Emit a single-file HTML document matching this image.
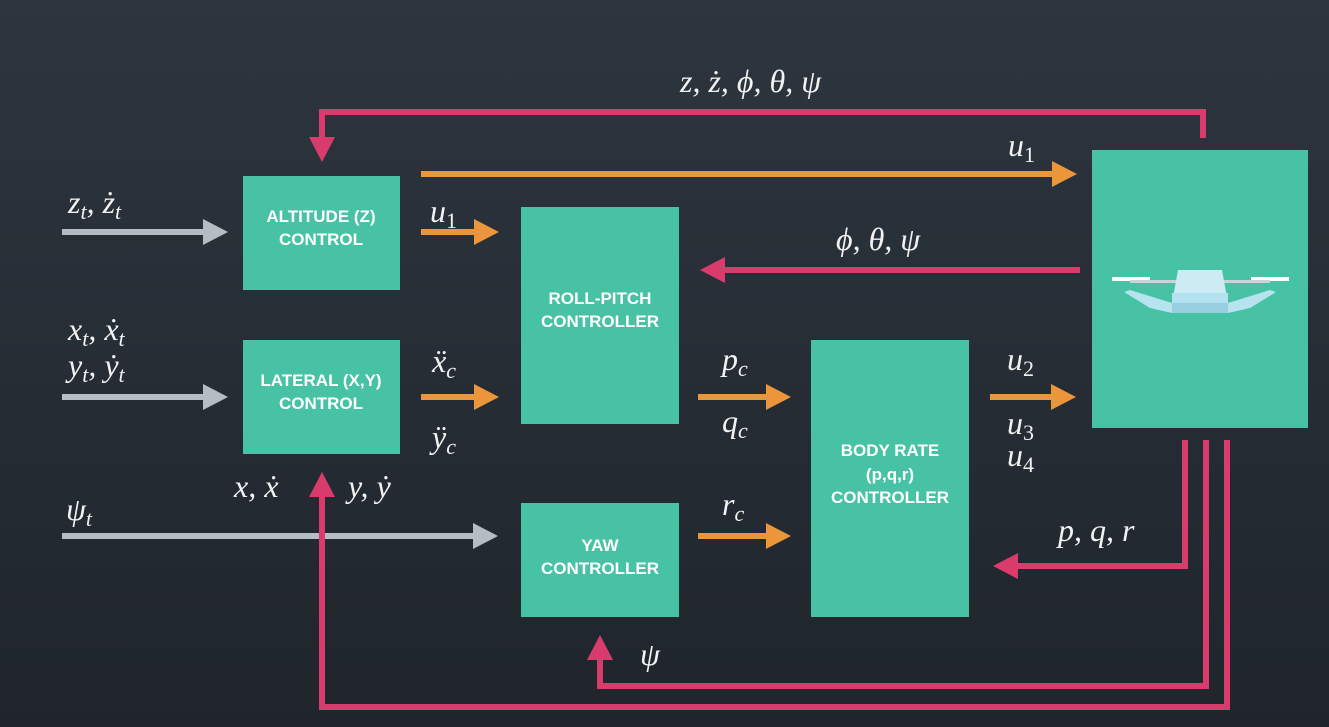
<!DOCTYPE html>
<html><head><meta charset="utf-8"><style>
html,body{margin:0;padding:0;width:1329px;height:727px;overflow:hidden;background:#272e36}
svg{display:block}
.m{font-family:"Liberation Serif",serif;font-style:italic;fill:#f2f2f2;font-size:32px}
.s{font-size:22px}
.n{font-size:22px;font-style:normal}
.b{font-family:"Liberation Sans",sans-serif;font-weight:bold;fill:#fff;font-size:17px;text-anchor:middle}
</style></head><body>
<svg width="1329" height="727" viewBox="0 0 1329 727">
<defs>
<linearGradient id="bg" x1="0" y1="0" x2="0" y2="1"><stop offset="0" stop-color="#2d353f"/><stop offset="1" stop-color="#1f252b"/></linearGradient>
</defs>
<rect width="1329" height="727" fill="url(#bg)"/>
<g fill="#48c2a5">
<rect x="243" y="176" width="157" height="114"/>
<rect x="243" y="340" width="157" height="114"/>
<rect x="521" y="207" width="158" height="217"/>
<rect x="521" y="503" width="158" height="114"/>
<rect x="811" y="340" width="158" height="277"/>
<rect x="1092" y="150" width="216" height="278"/>
</g>
<!-- drone -->
<rect x="1112" y="277" width="38" height="4" fill="#fff"/>
<rect x="1251" y="277" width="38" height="4" fill="#fff"/>
<rect x="1130" y="280" width="140" height="3" fill="#c9d4da"/>
<polygon points="1178,270 1222,270 1228,303 1172,303" fill="#cdebf3"/>
<polygon points="1172,293 1228,293 1228,313 1172,313" fill="#b2e2ef"/>
<rect x="1172" y="303" width="56" height="10" fill="#97cee0"/>
<polygon points="1124,292 1130,290 1172,303 1172,313 1150,308" fill="#b6e3ee"/>
<polygon points="1276,292 1270,290 1228,303 1228,313 1250,308" fill="#b6e3ee"/>
<!-- gray arrows -->
<g stroke="#b4bcc4" stroke-width="6" fill="none"><line x1="62" y1="232" x2="208" y2="232"/><line x1="62" y1="397" x2="208" y2="397"/><line x1="62" y1="536" x2="478" y2="536"/></g>
<g fill="#b4bcc4"><polygon points="203,219 228,232 203,245"/><polygon points="203,384 228,397 203,410"/><polygon points="473,523 498,536 473,549"/></g>
<!-- orange -->
<g stroke="#ec963c" stroke-width="6" fill="none"><line x1="421" y1="174" x2="1057" y2="174"/><line x1="421" y1="232" x2="478" y2="232"/><line x1="421" y1="397" x2="478" y2="397"/><line x1="698" y1="397" x2="770" y2="397"/><line x1="698" y1="536" x2="770" y2="536"/><line x1="990" y1="397" x2="1056" y2="397"/></g>
<g fill="#ec963c"><polygon points="1052,161 1077,174 1052,187"/><polygon points="474,219 499,232 474,245"/><polygon points="474,384 499,397 474,410"/><polygon points="766,384 791,397 766,410"/><polygon points="766,523 791,536 766,549"/><polygon points="1051,384 1076,397 1051,410"/></g>
<!-- magenta -->
<g stroke="#d93c6c" stroke-width="6" fill="none">
<polyline points="1203,138 1203,112 322,112 322,140"/>
<line x1="1080" y1="270" x2="720" y2="270"/>
<polyline points="1185,440 1185,566 1013,566"/>
<polyline points="1206,440 1206,686 600,686 600,656"/>
<polyline points="1227,440 1227,707 322,707 322,493"/>
</g>
<g fill="#d93c6c"><polygon points="309,137 322,162 335,137"/><polygon points="725,257 700,270 725,283"/><polygon points="1018,553 993,566 1018,579"/><polygon points="587,660 600,635 613,660"/><polygon points="309,497 322,472 335,497"/></g>
<!-- box labels -->
<text class="b" x="321" y="222">ALTITUDE (Z)</text><text class="b" x="321" y="245">CONTROL</text>
<text class="b" x="321" y="386">LATERAL (X,Y)</text><text class="b" x="321" y="409">CONTROL</text>
<text class="b" x="600" y="304">ROLL-PITCH</text><text class="b" x="600" y="327">CONTROLLER</text>
<text class="b" x="600" y="551">YAW</text><text class="b" x="600" y="574">CONTROLLER</text>
<text class="b" x="890" y="456">BODY RATE</text><text class="b" x="890" y="480">(p,q,r)</text><text class="b" x="890" y="503">CONTROLLER</text>
<!-- math labels -->
<text class="m" x="680" y="92">z, ż, ϕ, θ, ψ</text>
<text class="m" x="1008" y="156">u<tspan class="n" dy="6">1</tspan></text>
<text class="m" x="68" y="213">z<tspan class="s" dy="6">t</tspan><tspan dy="-6">, ż</tspan><tspan class="s" dy="6">t</tspan></text>
<text class="m" x="430" y="222">u<tspan class="n" dy="6">1</tspan></text>
<text class="m" x="836" y="250">ϕ, θ, ψ</text>
<text class="m" x="68" y="340">x<tspan class="s" dy="6">t</tspan><tspan dy="-6">, ẋ</tspan><tspan class="s" dy="6">t</tspan></text>
<text class="m" x="68" y="376">y<tspan class="s" dy="6">t</tspan><tspan dy="-6">, ẏ</tspan><tspan class="s" dy="6">t</tspan></text>
<text class="m" x="432" y="372">ẍ<tspan class="s" dy="6">c</tspan></text>
<text class="m" x="432" y="448">ÿ<tspan class="s" dy="6">c</tspan></text>
<text class="m" x="722" y="370">p<tspan class="s" dy="6">c</tspan></text>
<text class="m" x="722" y="432">q<tspan class="s" dy="6">c</tspan></text>
<text class="m" x="1007" y="370">u<tspan class="n" dy="6">2</tspan></text>
<text class="m" x="1007" y="434">u<tspan class="n" dy="6">3</tspan></text>
<text class="m" x="1007" y="466">u<tspan class="n" dy="6">4</tspan></text>
<text class="m" x="234" y="497">x, ẋ</text>
<text class="m" x="348" y="497">y, ẏ</text>
<text class="m" x="66" y="520">ψ<tspan class="s" dy="6">t</tspan></text>
<text class="m" x="722" y="515">r<tspan class="s" dy="6">c</tspan></text>
<text class="m" x="1058" y="541">p, q, r</text>
<text class="m" x="640" y="665">ψ</text>
</svg>
</body></html>
